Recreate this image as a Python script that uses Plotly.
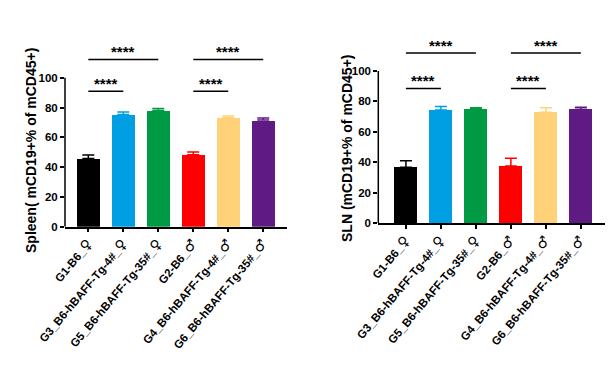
import plotly.graph_objects as go

groups = ["G1-B6_♀", "G3_B6-hBAFF-Tg-4#_♀", "G5_B6-hBAFF-Tg-35#_♀",
          "G2-B6_♂", "G4_B6-hBAFF-Tg-4#_♂", "G6_B6-hBAFF-Tg-35#_♂"]
colors = ["#000000", "#009FE3", "#009A44", "#FF0000", "#FFD27A", "#5F1A83"]

spleen_mean = [45.8, 75.4, 78.0, 48.3, 73.1, 71.6]
spleen_err = [2.3, 1.6, 1.4, 1.8, 1.2, 1.4]
sln_mean = [36.8, 74.4, 74.8, 37.6, 72.9, 74.8]
sln_err = [4.3, 2.2, 1.1, 5.1, 3.0, 1.4]

# significance comparisons: (group a, group b, label, level)
comparisons = [(0, 1, "****", 0), (0, 2, "****", 1), (3, 4, "****", 0), (3, 5, "****", 1)]
spleen_sig_y = [91, 112.3]
sln_sig_y = [88.5, 111.8]

FONT = "Liberation Sans, Arial, sans-serif"
# the page body has an 8px margin; the figure is sized to fill the rest of the window
OFF = 8
W, H = 616 - OFF, 373 - OFF


def px(x):
    return (x - OFF) / W


def py(y):
    return (H - (y - OFF)) / H


def fmt_label(s):
    sym = s[-1]
    return s[:-1] + "<span style='font-family:DejaVu Sans;font-size:14px'>" + sym + "</span>"


tick_text = [fmt_label(g) for g in groups]

fig = go.Figure()


def add_panel(means, errs, xa, ya):
    fig.add_trace(go.Bar(
        x=list(range(len(groups))), y=means, width=0.67,
        marker=dict(color=colors, line=dict(width=0)),
        xaxis=xa, yaxis=ya, showlegend=False,
    ))
    for i in range(len(groups)):
        fig.add_trace(go.Scatter(
            x=[i], y=[means[i]], mode="markers",
            marker=dict(size=0.1, color=colors[i], opacity=0),
            error_y=dict(type="data", symmetric=False, array=[errs[i]], arrayminus=[0],
                         color=colors[i], thickness=1.5, width=6),
            xaxis=xa, yaxis=ya, showlegend=False, hoverinfo="skip",
        ))


add_panel(spleen_mean, spleen_err, "x", "y")
add_panel(sln_mean, sln_err, "x2", "y2")


def axis_common(size):
    return dict(showgrid=False, zeroline=False, ticks="outside", ticklen=4, tickwidth=1.5,
                tickcolor="black", automargin=False,
                tickfont=dict(family=FONT, size=size, color="black", weight="bold"))


xcommon = dict(tickmode="array", tickvals=list(range(len(groups))), ticktext=tick_text,
               tickangle=-50, showline=True, linecolor="black", linewidth=1.5)
ycommon = dict(range=[0, 125], tickvals=[0, 20, 40, 60, 80, 100], showline=False)

fig.update_layout(
    width=W, height=H, margin=dict(l=0, r=0, t=0, b=0),
    paper_bgcolor="white", plot_bgcolor="white",
    bargap=0,
    xaxis=dict(domain=[px(65), px(287)], range=[-0.667, 5.68], anchor="y", **xcommon, **axis_common(11.5)),
    yaxis=dict(domain=[py(226.7), py(40.5)], anchor="x", **ycommon, **axis_common(11.5)),
    xaxis2=dict(domain=[px(378.3), px(605)], range=[-0.79, 5.69], anchor="y2", **xcommon, **axis_common(11.5)),
    yaxis2=dict(domain=[py(223.3), py(32.9)], anchor="x2", **ycommon, **axis_common(11.5)),
)

shapes = []
annotations = []
for xa, ya, sig_y in [("x", "y", spleen_sig_y), ("x2", "y2", sln_sig_y)]:
    # y-axis line only from 0 to 100
    shapes.append(dict(type="line", xref=xa + " domain", yref=ya, x0=0, x1=0, y0=0, y1=100,
                       line=dict(color="black", width=1.5)))
    for a, b, lab, lvl in comparisons:
        yv = sig_y[lvl]
        shapes.append(dict(type="line", xref=xa, yref=ya, x0=a, x1=b, y0=yv, y1=yv,
                           line=dict(color="black", width=1.5)))
        annotations.append(dict(x=(a + b) / 2, y=yv, xref=xa, yref=ya, text=lab, showarrow=False,
                                yanchor="bottom", yshift=-3,
                                font=dict(family=FONT, size=15, color="black", weight="bold")))

annotations.append(dict(x=px(31), y=py(151), xref="paper", yref="paper", xanchor="center", yanchor="middle",
                        text="Spleen( mCD19+% of mCD45+)", textangle=-90, showarrow=False,
                        font=dict(family=FONT, size=14, color="black", weight="bold")))
annotations.append(dict(x=px(347), y=py(148), xref="paper", yref="paper", xanchor="center", yanchor="middle",
                        text="SLN (mCD19+% of mCD45+)", textangle=-90, showarrow=False,
                        font=dict(family=FONT, size=14, color="black", weight="bold")))

fig.update_layout(shapes=shapes, annotations=annotations)
fig.write_html("out.html")
